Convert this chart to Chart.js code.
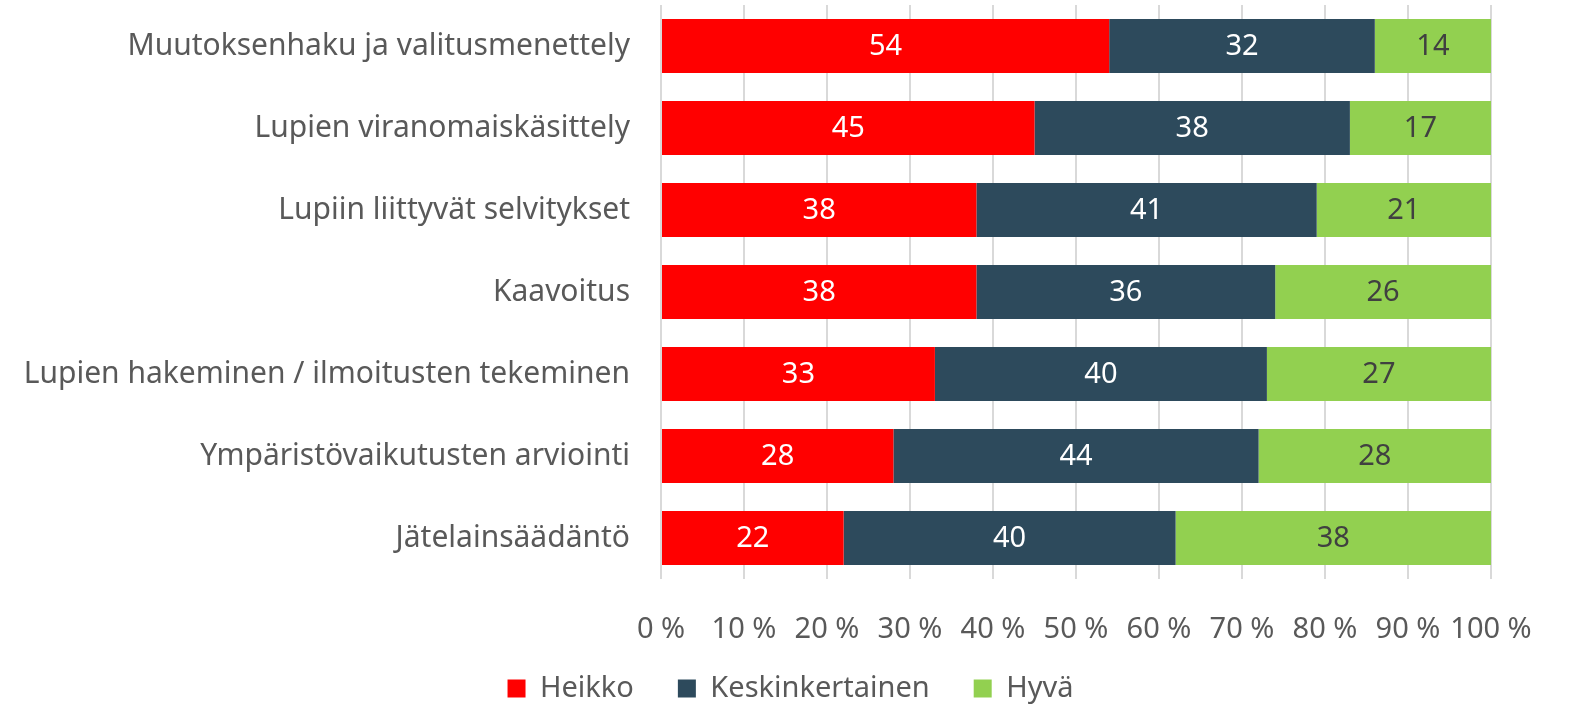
<!DOCTYPE html>
<html>
<head>
<meta charset="utf-8">
<script src="https://cdn.jsdelivr.net/npm/chart.js@4"></script>
<style>
  html, body { margin: 0; padding: 0; background: #fff; }
  #wrap { width: 1573px; height: 705px; }
</style>
</head>
<body>
<div id="wrap"><canvas id="myChart" width="1573" height="705"></canvas></div>
<script>
const categories = [
  "Muutoksenhaku ja valitusmenettely",
  "Lupien viranomaiskäsittely",
  "Lupiin liittyvät selvitykset",
  "Kaavoitus",
  "Lupien hakeminen / ilmoitusten tekeminen",
  "Ympäristövaikutusten arviointi",
  "Jätelainsäädäntö"
];
const heikko = [54, 45, 38, 38, 33, 28, 22];
const keskinkertainen = [32, 38, 41, 36, 40, 44, 40];
const hyva = [14, 17, 21, 26, 27, 28, 38];

const FONT = "'Noto Sans', sans-serif";

// draws the value in the middle of each bar segment
const barLabels = {
  id: "barLabels",
  afterDatasetsDraw(chart) {
    const ctx = chart.ctx;
    ctx.save();
    ctx.font = "29px " + FONT;
    ctx.textAlign = "center";
    ctx.textBaseline = "middle";
    chart.data.datasets.forEach((ds, i) => {
      const meta = chart.getDatasetMeta(i);
      meta.data.forEach((bar, j) => {
        const x = (bar.x + bar.base) / 2;
        ctx.fillStyle = ds.labelColor;
        ctx.fillText(ds.data[j], x, bar.y + 1);
      });
    });
    ctx.restore();
  }
};

// fixed legend height, then nudge it sideways
const legendPlace = {
  id: "legendPlace",
  beforeLayout(chart) {
    const lg = chart.legend;
    if (lg && !lg._patched) {
      const fit = lg.fit;
      lg.fit = function () { fit.call(this); this.height = 75; };
      lg._patched = true;
    }
  },
  afterLayout(chart) {
    const lg = chart.legend;
    lg.left += 45; lg.right += 45;
  }
};

new Chart("myChart", {
  type: "bar",
  data: {
    labels: categories,
    datasets: [{
      label: "Heikko",
      data: heikko,
      backgroundColor: "#ff0000",
      labelColor: "#ffffff"
    }, {
      label: "Keskinkertainen",
      data: keskinkertainen,
      backgroundColor: "#2d4a5c",
      labelColor: "#ffffff"
    }, {
      label: "Hyvä",
      data: hyva,
      backgroundColor: "#92d050",
      labelColor: "#404040"
    }]
  },
  options: {
    indexAxis: "y",
    responsive: false,
    animation: false,
    categoryPercentage: 0.66,
    barPercentage: 1,
    layout: { padding: { top: 5, right: 82, left: 0, bottom: 0 } },
    scales: {
      x: {
        stacked: true,
        min: 0,
        max: 100,
        border: { display: false },
        grid: { color: "#d9d9d9", lineWidth: 2, drawTicks: false },
        afterFit: s => {
          s.height = 51; s.paddingLeft = 0; s.paddingRight = 0;
          s._computeLabelArea = () => undefined; // let tick labels spill below
        },
        ticks: {
          stepSize: 10,
          autoSkip: false,
          maxRotation: 0,
          padding: 33,
          color: "#595959",
          font: { family: FONT, size: 29 },
          callback: v => v + " %"
        }
      },
      y: {
        stacked: true,
        border: { display: false },
        grid: { display: false },
        afterFit: s => { s.width = 661; s.paddingTop = 0; s.paddingBottom = 0; },
        ticks: {
          padding: 23,
          color: "#595959",
          font: { family: FONT, size: 30 }
        }
      }
    },
    plugins: {
      legend: {
        position: "bottom",
        labels: {
          boxWidth: 18,
          boxHeight: 18,
          padding: 44,
          color: "#595959",
          font: { family: FONT, size: 29 }
        }
      },
      tooltip: { enabled: false }
    }
  },
  plugins: [barLabels, legendPlace]
});
</script>
</body>
</html>
